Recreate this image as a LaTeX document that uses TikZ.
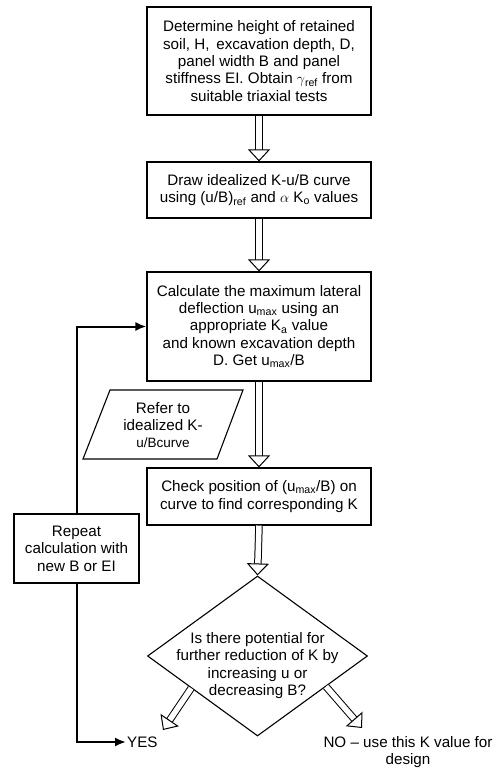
\documentclass[tikz,border=0pt]{standalone}
\usepackage{fontspec}
\setmainfont{Liberation Sans}
\usetikzlibrary{arrows.meta,positioning,shapes.geometric,calc}

\tikzset{
  stepbox/.style={draw, line width=1.1pt, minimum width=224pt, align=center, inner sep=2pt},
  hollow/.style={double, double distance=5.5pt, line width=1pt,
    -{Triangle[open, fill=white, length=12pt, width=22pt]}},
  back/.style={line width=2pt, -{Latex[length=11pt, width=9pt]}},
}

\begin{document}
\begin{tikzpicture}[x=1pt, y=-1pt, font=\fontsize{15.2}{17.4}\selectfont]
    \useasboundingbox (0,0) rectangle (499,770);

    % Main steps
    \node[stepbox, minimum height=108pt] (soil) at (259,61)
      {Determine height of retained\\ soil, H,\, excavation depth, D,\\ panel width B and panel\\
       stiffness EI. Obtain $\gamma$\textsubscript{ref} from\\ suitable triaxial tests};
    \node[stepbox, minimum height=56pt] (curve) at (259,190)
      {Draw idealized K-u/B curve\\ using (u/B)\textsubscript{ref} and $\alpha$ K\textsubscript{o} values};
    \node[stepbox, minimum height=109pt] (calc) at (259,326.5)
      {Calculate the maximum lateral\\ deflection u\textsubscript{max} using an\\ appropriate K\textsubscript{a} value\\
       and known excavation depth\\ D. Get u\textsubscript{max}/B};
    \node[stepbox, minimum height=57pt] (check) at (259,496.5)
      {Check position of (u\textsubscript{max}/B) on\\ curve to find corresponding K};

    % Input (parallelogram)
    \draw[line width=1.1pt] (110,390) -- (243,390) -- (217,459) -- (83,459) -- cycle;
    \node[align=center] (refer) at (163,425)
      {Refer to\\ idealized K-\\ {\fontsize{13.5}{15}\selectfont u/Bcurve}};

    % Decision
    \node[draw, diamond, line width=1.1pt, minimum width=220pt, minimum height=160pt, inner sep=0pt]
      (dec) at (257.5,656) {};
    \node[align=center] (question) at (257.5,665.5)
      {Is there potential for\\ further reduction of K by\\ increasing u or\\ decreasing B?};

    % Repeat
    \node[draw, line width=1.1pt, minimum width=125pt, minimum height=69pt, align=center]
      (repeat) at (76.5,548.5) {Repeat\\ calculation with\\ new B or EI};

    % Outcomes
    \node[anchor=west, inner sep=1pt] (yes) at (126,742) {YES};
    \node[align=center] (no) at (408,752) {NO -- use this K value for\\ design};
    \coordinate (yestip) at (163,730);
    \coordinate (notip) at (362,728);

    % Hollow arrows
    \draw[hollow] (soil.south) -- (curve.north);
    \draw[hollow] (curve.south) -- (calc.north);
    \draw[hollow] (calc.south) -- (check.north);
    \draw[hollow] (check.south) -- (dec.north);
    \draw[hollow] ($(dec.west)!0.4!(dec.south)$) -- (yestip);
    \draw[hollow] ($(dec.east)!0.38!(dec.south)$) -- (notip);

    % Loop back
    \draw[back] (repeat.north) |- (calc.west);
    \draw[back] (repeat.south) |- (yes.west);
\end{tikzpicture}
\end{document}
